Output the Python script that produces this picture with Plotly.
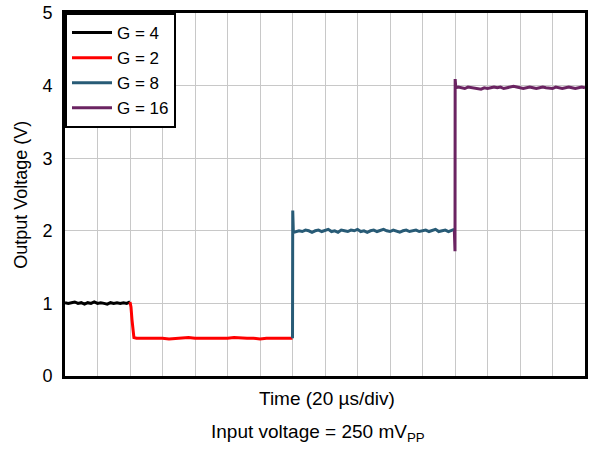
import plotly.graph_objects as go

# ---- data (time in µs, output in V) ----
t_g4 = [0, 2, 4, 6, 8, 10, 12, 14, 16, 18, 20, 22, 24, 26, 28, 30, 32, 34, 36, 38, 40]
v_g4 = [1.01, 1.00, 1.01, 1.02, 1.00, 1.01, 0.99, 1.01, 1.00, 1.02, 1.00,
        1.01, 1.00, 0.99, 1.01, 1.00, 1.01, 1.00, 1.01, 1.00, 1.02]

t_g2 = [40, 40.6, 41.2, 41.8, 42.4, 44, 48, 52, 56, 60, 64, 68, 72, 76, 80, 84, 88,
        92, 96, 100, 104, 108, 112, 116, 120, 124, 128, 132, 136, 140]
v_g2 = [1.02, 0.95, 0.78, 0.60, 0.53, 0.52, 0.52, 0.53, 0.52, 0.52, 0.51, 0.52, 0.52,
        0.53, 0.52, 0.52, 0.52, 0.51, 0.52, 0.52, 0.53, 0.52, 0.52, 0.52, 0.51, 0.52,
        0.52, 0.53, 0.52, 0.52]

t_g8 = [140, 140.15, 140.5, 141, 144, 146, 148, 150, 152, 154, 156, 158, 160, 162, 164,
        166, 168, 170, 172, 174, 176, 178, 180, 182, 184, 186, 188, 190, 192, 194, 196,
        198, 200, 202, 204, 206, 208, 210, 212, 214, 216, 218, 220, 222, 224, 226, 228,
        230, 232, 234, 236, 238, 239.5]
v_g8 = [0.52, 2.28, 2.00, 1.98, 2.00, 1.99, 2.01, 2.00, 1.98, 2.00, 2.01, 1.99, 2.00,
        2.02, 1.99, 2.00, 1.98, 2.01, 2.00, 1.99, 2.01, 2.00, 2.02, 1.99, 2.00, 1.98,
        2.00, 2.01, 1.99, 2.00, 2.02, 2.00, 1.99, 2.01, 2.00, 1.98, 2.00, 2.01, 1.99,
        2.00, 2.01, 1.99, 2.00, 2.01, 1.99, 2.00, 2.02, 1.99, 2.00, 2.01, 1.99, 2.01, 2.02]

t_g16 = [239.6, 240, 240.1, 240.5, 242, 244, 246, 248, 250, 252, 254, 256, 258, 260,
         262, 264, 266, 268, 270, 272, 274, 276, 278, 280, 282, 284, 286, 288, 290, 292,
         294, 296, 298, 300, 302, 304, 306, 308, 310, 312, 314, 316, 318, 320]
v_g16 = [2.00, 1.72, 4.09, 3.97, 3.98, 3.97, 3.96, 3.98, 3.97, 3.97, 3.96, 3.95, 3.97,
         3.96, 3.97, 3.98, 3.97, 3.98, 3.96, 3.97, 3.97, 3.99, 3.98, 3.97, 3.96, 3.97,
         3.98, 3.97, 3.96, 3.97, 3.98, 3.97, 3.97, 3.96, 3.98, 3.97, 3.96, 3.97, 3.98,
         3.97, 3.96, 3.97, 3.98, 3.97]

series = [
    ("G = 4", t_g4, v_g4, "#000000"),
    ("G = 2", t_g2, v_g2, "#ff0000"),
    ("G = 8", t_g8, v_g8, "#285b76"),
    ("G = 16", t_g16, v_g16, "#6b2462"),
]

font = "Liberation Sans, Arial, sans-serif"

fig = go.Figure()
for name, t, v, c in series:
    fig.add_trace(go.Scatter(x=t, y=v, mode="lines", name=name,
                             line=dict(color=c, width=3)))

fig.update_layout(
    width=591, height=449,
    margin=dict(l=65, r=3, t=13, b=73),
    paper_bgcolor="white", plot_bgcolor="white",
    font=dict(family=font, color="#000000"),
    showlegend=True,
    legend=dict(x=0, y=1, xanchor="left", yanchor="top",
                bgcolor="white", bordercolor="#000000", borderwidth=2,
                font=dict(size=17, family=font), tracegroupgap=0,
                itemwidth=40),
    xaxis=dict(range=[0, 320], dtick=20, tick0=0, showticklabels=False,
               showgrid=True, gridcolor="#c8c8c8", gridwidth=1,
               showline=True, linecolor="#000000", linewidth=3, mirror=True,
               zeroline=False, ticks=""),
    yaxis=dict(range=[0, 5], dtick=1, tick0=0,
               showgrid=True, gridcolor="#c8c8c8", gridwidth=1,
               showline=True, linecolor="#000000", linewidth=3, mirror=True,
               zeroline=False, ticks="", tickfont=dict(size=18, family=font),
               ticklabelstandoff=6),
    annotations=[
        dict(text="Output Voltage (V)", xref="paper", yref="paper",
             x=-0.086, y=0.5, xanchor="center", yanchor="middle", textangle=-90,
             showarrow=False, font=dict(size=18, family=font)),
        dict(text="Time (20 µs/div)", xref="paper", yref="paper",
             x=0.503, y=-0.061, xanchor="center", yanchor="middle", showarrow=False,
             font=dict(size=19, family=font)),
        dict(text="Input voltage = 250 mV<sub>PP</sub>", xref="paper", yref="paper",
             x=0.487, y=-0.157, xanchor="center", yanchor="middle", showarrow=False,
             font=dict(size=19, family=font)),
    ],
)

fig.write_html("out.html", config={"displayModeBar": False},
               post_script="document.body.style.margin='0';")
